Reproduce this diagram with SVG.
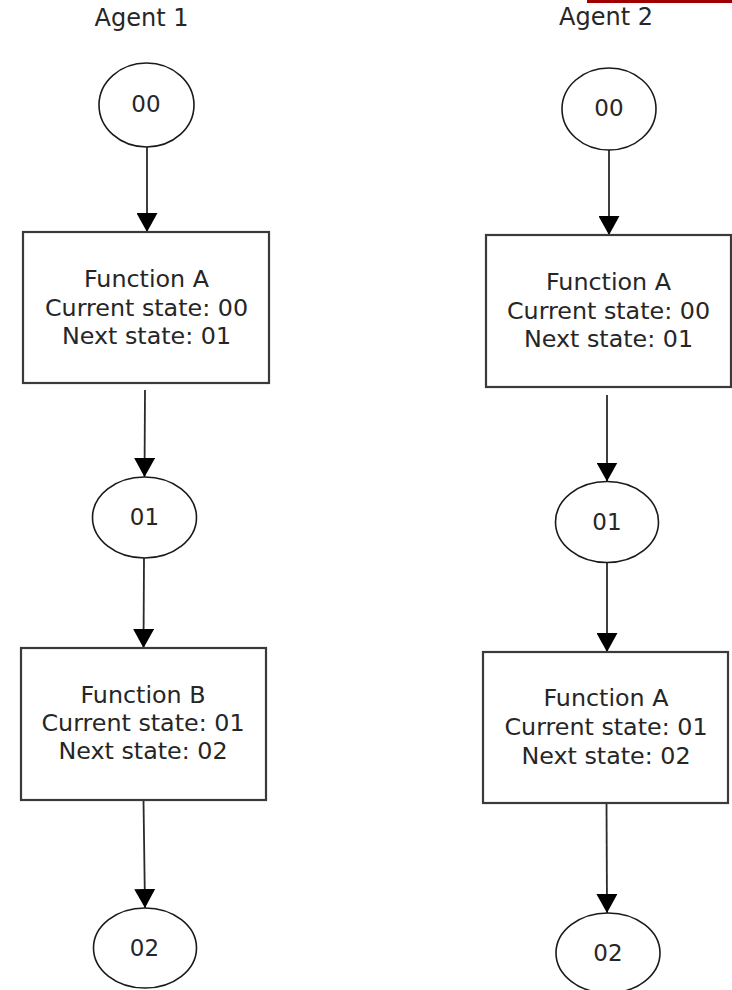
<svg xmlns="http://www.w3.org/2000/svg" width="732" height="990" viewBox="0 0 732 990">
  <style>
    .bg { fill: #ffffff; }
    .state { fill: #ffffff; stroke: #1a1a1a; stroke-width: 1.6; }
    .func { fill: #ffffff; stroke: #3a3a3a; stroke-width: 2.2; }
    .edge { fill: none; stroke: #2a2a2a; stroke-width: 1.8; }
    text { font-family: "DejaVu Sans", "Liberation Sans", sans-serif; fill: #262626; text-anchor: middle; }
    .title { font-size: 24px; }
    .lbl { font-size: 23.8px; }
    .st { font-size: 23px; }
  </style>
  <defs>
    <marker id="arrow" markerUnits="userSpaceOnUse" viewBox="0 0 19 21" refX="19" refY="10.5" markerWidth="19" markerHeight="21" orient="auto">
      <path d="M0,0 L19,10.5 L0,21 z" fill="#000000"/>
    </marker>
  </defs>

  <rect class="bg" x="0" y="0" width="732" height="990"/>
  <rect x="587" y="0" width="145" height="3" fill="#a00000"/>

  <!-- column headings -->
  <text class="title" x="141.5" y="26">Agent 1</text>
  <text class="title" x="606" y="25">Agent 2</text>

  <!-- connectors -->
  <g id="connectors">
    <path class="edge" d="M147,147 L147,232" marker-end="url(#arrow)"/>
    <path class="edge" d="M145,390 L144.5,477" marker-end="url(#arrow)"/>
    <path class="edge" d="M144,558 L143.5,648" marker-end="url(#arrow)"/>
    <path class="edge" d="M143.5,800 L145,908" marker-end="url(#arrow)"/>

    <path class="edge" d="M609,150 L609,235" marker-end="url(#arrow)"/>
    <path class="edge" d="M607,395 L607,481.5" marker-end="url(#arrow)"/>
    <path class="edge" d="M607,563 L607,652" marker-end="url(#arrow)"/>
    <path class="edge" d="M606.5,803 L607,913" marker-end="url(#arrow)"/>
  </g>

  <!-- Agent 1 -->
  <g id="a1-s00">
    <ellipse class="state" cx="146.5" cy="105" rx="47.5" ry="42"/>
    <text class="st" x="146" y="112">00</text>
  </g>
  <g id="a1-fA">
    <rect class="func" x="23" y="232" width="246" height="151"/>
    <text class="lbl" x="146.5" y="287">Function A</text>
    <text class="lbl" x="146.5" y="316">Current state: 00</text>
    <text class="lbl" x="146.5" y="344">Next state: 01</text>
  </g>
  <g id="a1-s01">
    <ellipse class="state" cx="144.5" cy="517.5" rx="52" ry="40.5"/>
    <text class="st" x="144.5" y="525">01</text>
  </g>
  <g id="a1-fB">
    <rect class="func" x="21" y="648" width="245" height="152"/>
    <text class="lbl" x="143" y="703">Function B</text>
    <text class="lbl" x="143" y="731">Current state: 01</text>
    <text class="lbl" x="143" y="759">Next state: 02</text>
  </g>
  <g id="a1-s02">
    <ellipse class="state" cx="145" cy="948" rx="51.5" ry="40"/>
    <text class="st" x="144.5" y="956">02</text>
  </g>

  <!-- Agent 2 -->
  <g id="a2-s00">
    <ellipse class="state" cx="609" cy="109" rx="47" ry="41"/>
    <text class="st" x="609" y="116">00</text>
  </g>
  <g id="a2-fA1">
    <rect class="func" x="486" y="235" width="245" height="152"/>
    <text class="lbl" x="608.5" y="290">Function A</text>
    <text class="lbl" x="608.5" y="318.5">Current state: 00</text>
    <text class="lbl" x="608.5" y="347">Next state: 01</text>
  </g>
  <g id="a2-s01">
    <ellipse class="state" cx="607" cy="522" rx="51.5" ry="40.5"/>
    <text class="st" x="607" y="529.5">01</text>
  </g>
  <g id="a2-fA2">
    <rect class="func" x="483" y="652" width="245" height="151"/>
    <text class="lbl" x="606" y="706">Function A</text>
    <text class="lbl" x="606" y="735">Current state: 01</text>
    <text class="lbl" x="606" y="763.5">Next state: 02</text>
  </g>
  <g id="a2-s02">
    <ellipse class="state" cx="608" cy="953" rx="52" ry="40"/>
    <text class="st" x="608" y="961">02</text>
  </g>
</svg>
